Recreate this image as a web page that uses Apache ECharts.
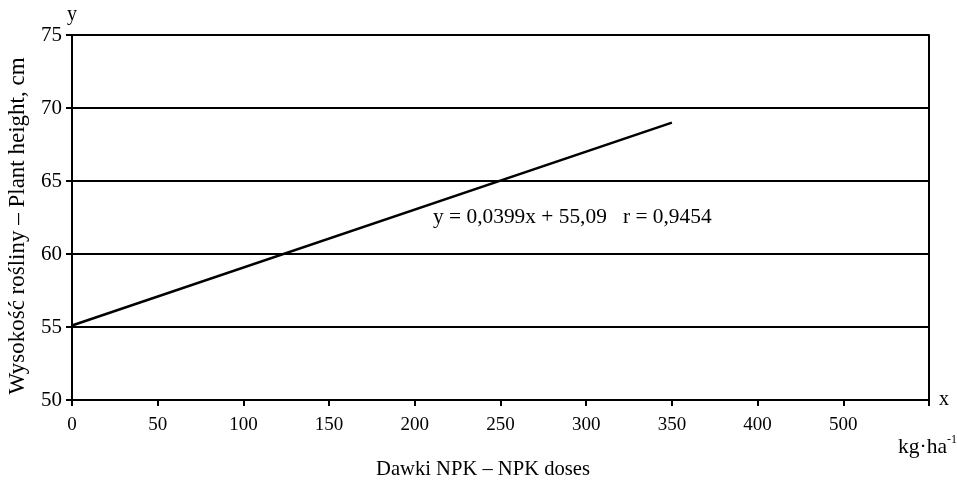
<!DOCTYPE html>
<html>
<head>
<meta charset="utf-8">
<script src="https://cdn.jsdelivr.net/npm/echarts@6/dist/echarts.min.js"></script>
<style>html,body{margin:0;padding:0;background:#fff}#c{width:957px;height:482px}</style>
</head>
<body>
<div id="c"></div>
<script>
// Data
var xTickLabels = ['0','50','100','150','200','250','300','350','400','500',''];
var yTickValues = [50,55,60,65,70,75];
var lineX = [0, 350];
var lineY = [55.1, 69.0];
var equationText = 'y = 0,0399x + 55,09   r = 0,9454';
var xTitle = 'Dawki NPK \u2013 NPK doses';
var yTitle = 'Wysoko\u015b\u0107 ro\u015bliny \u2013 Plant height, cm';

var FONT = '"Liberation Serif", "Times New Roman", serif';
var chart = echarts.init(document.getElementById('c'), null, {renderer: 'canvas'});
var lineData = lineX.map(function (x, i) { return [x, lineY[i]]; });

chart.setOption({
  animation: false,
  backgroundColor: '#fff',
  grid: {left: 72, right: 28, top: 35, bottom: 82, containLabel: false},
  xAxis: {
    type: 'value', min: 0, max: 500, interval: 50,
    name: 'x', nameLocation: 'end', nameGap: 10,
    nameTextStyle: {fontFamily: FONT, fontSize: 20, color: '#000', verticalAlign: 'middle'},
    axisLine: {show: true, lineStyle: {color: '#000', width: 2}},
    axisTick: {show: true, length: 6, lineStyle: {color: '#000', width: 2}},
    axisLabel: {
      fontFamily: FONT, fontSize: 19, color: '#000', margin: 16,
      formatter: function (v) { return xTickLabels[Math.round(v / 50)]; }
    },
    splitLine: {show: false}
  },
  yAxis: [{
    type: 'value', min: 50, max: 75, interval: 5,
    name: 'y', nameLocation: 'end', nameGap: 7,
    nameTextStyle: {fontFamily: FONT, fontSize: 20, color: '#000'},
    axisLine: {show: true, lineStyle: {color: '#000', width: 2}},
    axisTick: {show: true, length: 6, lineStyle: {color: '#000', width: 2}},
    axisLabel: {fontFamily: FONT, fontSize: 21, color: '#000', margin: 10,
      formatter: function (v) { return yTickValues.indexOf(v) >= 0 ? String(v) : ''; }},
    splitLine: {show: true, lineStyle: {color: '#000', width: 2}}
  }, {
    type: 'value', min: 50, max: 75, interval: 5, position: 'right',
    axisLine: {show: true, lineStyle: {color: '#000', width: 2}},
    axisTick: {show: false}, axisLabel: {show: false}, splitLine: {show: false}
  }],
  series: [{
    type: 'line', data: lineData, showSymbol: false, symbol: 'none',
    lineStyle: {color: '#000', width: 2.5}, z: 5
  }],
  graphic: [
    {type: 'text', left: 433, top: 207,
      style: {text: equationText, font: '21.4px ' + FONT, fill: '#000'}},
    {type: 'text', x: 483, y: 470,
      style: {text: xTitle, font: '20.6px ' + FONT, fill: '#000', align: 'center', verticalAlign: 'middle'}},
    {type: 'text', x: 18, y: 226, rotation: Math.PI / 2,
      style: {text: yTitle, font: '23px ' + FONT, fill: '#000', align: 'center', verticalAlign: 'middle'}},
    {type: 'text', x: 957, y: 434,
      style: {
        text: '{b|kg\u00b7ha}{s|-1}', align: 'right', verticalAlign: 'top',
        rich: {
          b: {fontFamily: FONT, fontSize: 21.5, fill: '#000', verticalAlign: 'bottom'},
          s: {fontFamily: FONT, fontSize: 12, fill: '#000', verticalAlign: 'top', padding: [0, 0, 12, 0]}
        }
      }}
  ]
});
</script>
</body>
</html>
